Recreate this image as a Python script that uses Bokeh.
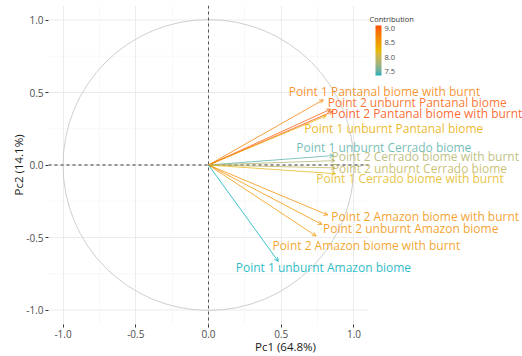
import numpy as np
from bokeh.plotting import figure
from bokeh.models import (ColumnDataSource, LabelSet, Label, Arrow, OpenHead, Span, ColorBar,
                          LinearColorMapper, FixedTicker, PrintfTickFormatter, Range1d)
from bokeh.embed import file_html
from bokeh.resources import INLINE
from bokeh.core.properties import value

# ---------------- data ----------------
variables = [
    "Point 1 Pantanal biome with burnt",
    "Point 2 unburnt Pantanal biome",
    "Point 2 Pantanal biome with burnt",
    "Point 1 unburnt Pantanal biome",
    "Point 1 unburnt Cerrado biome",
    "Point 2 Cerrado biome with burnt",
    "Point 2 unburnt Cerrado biome",
    "Point 1 Cerrado biome with burnt",
    "Point 2 Amazon biome with burnt",
    "Point 2 unburnt Amazon biome",
    "Point 2 Amazon biome with burnt",
    "Point 1 unburnt Amazon biome",
]
pc1 = [0.79, 0.84, 0.855, 0.81, 0.86, 0.87, 0.87, 0.875, 0.82, 0.78, 0.74, 0.48]
pc2 = [0.45, 0.385, 0.37, 0.34, 0.065, 0.03, -0.02, -0.06, -0.345, -0.41, -0.49, -0.665]
contrib = [8.75, 9.0, 9.1, 8.35, 7.47, 7.85, 7.95, 8.2, 8.6, 8.6, 8.55, 7.36]
label_x = [1.21, 1.435, 1.50, 1.274, 1.205, 1.49, 1.45, 1.385, 1.49, 1.39, 1.085, 0.79]
label_y = [0.509, 0.433, 0.357, 0.254, 0.124, 0.062, -0.021, -0.096, -0.357, -0.44, -0.557, -0.708]

axis_ticks = [-1.0, -0.5, 0.0, 0.5, 1.0]
axis_minor_ticks = [-0.75, -0.25, 0.25, 0.75]
panel_limits = (-1.1, 1.1)
legend_ticks = [7.5, 8.0, 8.5, 9.0]
gradient_colors = ["#00AFBB", "#E7B800", "#FC4E07"]
x_title = "Pc1 (64.8%)"
y_title = "Pc2 (14.1%)"
legend_title = "Contribution"


# ---------------- palette (interpolated in CIE Lab, like ggplot2) ----------------
WHITE = np.array([0.95047, 1.0, 1.08883])
M = np.array([[0.4124564, 0.3575761, 0.1804375],
              [0.2126729, 0.7151522, 0.0721750],
              [0.0193339, 0.1191920, 0.9503041]])
MINV = np.linalg.inv(M)


def hex2rgb(h):
    h = h.lstrip("#")
    return np.array([int(h[i:i + 2], 16) for i in (0, 2, 4)], dtype=float) / 255.0


def rgb2lab(c):
    lin = np.where(c <= 0.04045, c / 12.92, ((c + 0.055) / 1.055) ** 2.4)
    xyz = M @ lin / WHITE
    f = np.where(xyz > (6 / 29) ** 3, np.cbrt(xyz), xyz / (3 * (6 / 29) ** 2) + 4 / 29)
    return np.array([116 * f[1] - 16, 500 * (f[0] - f[1]), 200 * (f[1] - f[2])])


def lab2rgb(lab):
    fy = (lab[0] + 16) / 116
    fx = fy + lab[1] / 500
    fz = fy - lab[2] / 200
    f = np.array([fx, fy, fz])
    xyz = np.where(f > 6 / 29, f ** 3, 3 * (6 / 29) ** 2 * (f - 4 / 29)) * WHITE
    lin = np.clip(MINV @ xyz, 0, 1)
    c = np.where(lin <= 0.0031308, 12.92 * lin, 1.055 * lin ** (1 / 2.4) - 0.055)
    return np.clip(c, 0, 1)


stops = np.array([rgb2lab(hex2rgb(c)) for c in gradient_colors])
pos = np.linspace(0, 1, len(stops))
t = np.linspace(0, 1, 256)
labs = np.stack([np.interp(t, pos, stops[:, k]) for k in range(3)], axis=1)
palette = ["#%02x%02x%02x" % tuple(int(round(v * 255)) for v in lab2rgb(row)) for row in labs]

mapper = LinearColorMapper(palette=palette, low=min(contrib), high=max(contrib))
cmap = {"field": "contrib", "transform": mapper}

src = ColumnDataSource(dict(x1=pc1, y1=pc2, contrib=contrib, label=variables,
                            lx=label_x, ly=label_y))

FONT = "Open Sans"
W, H = 522, 356
LEFT, TOP, BOTTOM = 48, 5, 31
PANEL_PX = 320.0
px_per_unit = PANEL_PX / (panel_limits[1] - panel_limits[0])
x_end = panel_limits[0] + (W - LEFT) / px_per_unit

p = figure(width=W, height=H,
           x_range=Range1d(panel_limits[0], x_end), y_range=Range1d(*panel_limits),
           output_backend="svg", toolbar_location=None,
           min_border_left=LEFT, min_border_right=0, min_border_top=TOP, min_border_bottom=BOTTOM,
           background_fill_color="white", border_fill_color="white")
p.outline_line_color = None

# axes
for ax in (p.xaxis, p.yaxis):
    ax.ticker = FixedTicker(ticks=axis_ticks, minor_ticks=axis_minor_ticks)
    ax.formatter = PrintfTickFormatter(format="%.1f")
    ax.axis_line_color = None
    ax.major_tick_line_color = "#333333"
    ax.major_tick_out = 3
    ax.major_tick_in = 0
    ax.minor_tick_line_color = None
    ax.major_label_text_font = FONT
    ax.major_label_text_font_size = "10px"
    ax.major_label_text_color = "#4D4D4D"
    ax.axis_label_text_font = FONT
    ax.axis_label_text_font_size = "11.5px"
    ax.axis_label_text_font_style = "normal"
    ax.axis_label_text_color = "#1A1A1A"
p.xaxis.major_label_standoff = 1
p.xaxis.axis_label_standoff = -2
p.yaxis.major_label_standoff = 1
p.yaxis.axis_label_standoff = -3
p.xaxis.axis_label = x_title
p.yaxis.axis_label = y_title

# vertical grid lines (built-in, they span the panel height)
p.xgrid.grid_line_color = "#EBEBEB"
p.xgrid.grid_line_width = 1
p.xgrid.minor_grid_line_color = "#F3F3F3"
p.xgrid.minor_grid_line_width = 0.6
# horizontal grid lines, kept inside the panel
p.ygrid.visible = False
p.multi_line(xs=[list(panel_limits)] * len(axis_minor_ticks), ys=[[v, v] for v in axis_minor_ticks],
             line_color="#F3F3F3", line_width=0.6, level="underlay")
p.multi_line(xs=[list(panel_limits)] * len(axis_ticks), ys=[[v, v] for v in axis_ticks],
             line_color="#EBEBEB", line_width=1, level="underlay")

# correlation circle
p.circle(x=[0], y=[0], radius=[1], fill_color=None, line_color="#C8C8C8", line_width=0.9)

# dashed reference lines
p.segment(x0=[panel_limits[0]], y0=[0], x1=[panel_limits[1]], y1=[0],
          line_color="#333333", line_width=1, line_dash="3 3")
p.add_layout(Span(location=0, dimension="height", line_color="#555555", line_width=1, line_dash="3 3"))

# arrows
arrows = Arrow(source=src, x_start=0, y_start=0, x_end="x1", y_end="y1",
               line_color=cmap, line_width=0.9, line_alpha=0.85,
               end=OpenHead(size=4, line_color=cmap, line_width=0.9, line_alpha=0.85))
p.add_layout(arrows)

labels = LabelSet(x="lx", y="ly", text="label", source=src, text_color=cmap, text_alpha=0.85,
                  text_align="center", text_baseline="middle",
                  text_font=value(FONT), text_font_size="12px")
p.add_layout(labels)

cb = ColorBar(color_mapper=mapper, ticker=FixedTicker(ticks=legend_ticks),
              formatter=PrintfTickFormatter(format="%.1f"),
              width=6, height=50,
              major_label_text_font=FONT, major_label_text_font_size="7.5px",
              major_label_text_color="#4D4D4D", label_standoff=3,
              major_tick_line_color=None, bar_line_color=None, border_line_color=None,
              background_fill_alpha=0, padding=0, location=(327, 249))
p.add_layout(cb, "center")
p.add_layout(Label(x=321, y=306, x_units="screen", y_units="screen", text=legend_title,
                   text_font=FONT, text_font_size="7.5px", text_color="#333333",
                   text_baseline="middle", text_align="left"))

open("out.html", "w").write(file_html(p, INLINE))
